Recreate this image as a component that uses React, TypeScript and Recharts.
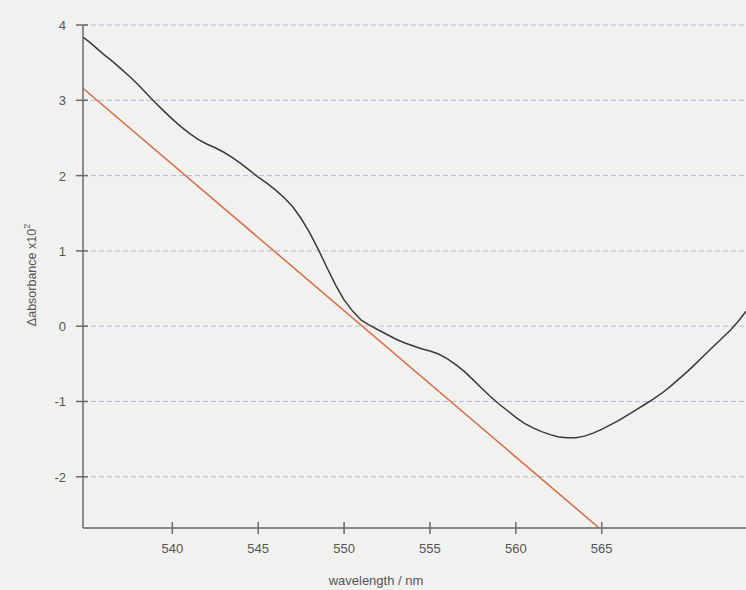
import { LineChart, Line, XAxis, YAxis, CartesianGrid } from 'recharts';

// wavelength (nm) and Δabsorbance x10²
const wavelengths = [
  534.8, 535.2, 535.6, 536.0, 536.5, 537.0, 537.5, 538.0, 538.5, 539.0, 539.5, 540.0, 540.5, 541.0,
  541.5, 542.0, 542.5, 543.0, 543.5, 544.0, 544.5, 545.0, 545.5, 546.0, 546.5, 547.0, 547.5, 548.0,
  548.5, 549.0, 549.5, 550.0, 550.5, 551.0, 551.5, 552.0, 552.5, 553.0, 553.5, 554.0, 554.5, 555.0,
  555.5, 556.0, 556.5, 557.0, 557.5, 558.0, 558.5, 559.0, 559.5, 560.0, 560.5, 561.0, 561.5, 562.0,
  562.5, 563.0, 563.5, 564.0, 564.5, 565.0, 565.5, 566.0, 566.5, 567.0, 567.5, 568.0, 568.5, 569.0,
  569.5, 570.0, 570.5, 571.0, 571.5, 572.0, 572.5, 573.0, 573.4,
];
const spectrum = [
  3.84, 3.77, 3.69, 3.61, 3.52, 3.42, 3.32, 3.21, 3.09, 2.97, 2.86, 2.75, 2.65, 2.56,
  2.48, 2.42, 2.37, 2.31, 2.24, 2.16, 2.07, 1.98, 1.9, 1.81, 1.71, 1.59, 1.43, 1.24,
  1.02, 0.78, 0.55, 0.35, 0.2, 0.08, 0.01, -0.05, -0.11, -0.17, -0.22, -0.26, -0.3, -0.33,
  -0.37, -0.43, -0.51, -0.6, -0.71, -0.82, -0.93, -1.03, -1.12, -1.21, -1.29, -1.35, -1.4, -1.44,
  -1.47, -1.48, -1.48, -1.46, -1.42, -1.37, -1.31, -1.25, -1.18, -1.11, -1.04, -0.97, -0.89, -0.8,
  -0.7, -0.6, -0.49, -0.38, -0.27, -0.16, -0.05, 0.08, 0.2,
];

// straight baseline (red)
const baselineX = [534.8, 564.85];
const baselineY = [3.16, -2.68];

const xTicks = [540, 545, 550, 555, 560, 565];
const yTicks = [-2, -1, 0, 1, 2, 3, 4];

const spectrumData = wavelengths.map((w, i) => ({ w, a: spectrum[i] }));
const baselineData = baselineX.map((w, i) => ({ w, b: baselineY[i] }));

const FONT = '"Liberation Sans", Arial, sans-serif';
const AXIS = '#6a6a6a';

const XTick = ({ x, y, payload }: any) => (
  <g>
    <line x1={x} y1={y - 6} x2={x} y2={y + 6} stroke={AXIS} strokeWidth={1.5} />
    <text x={x} y={y + 25} textAnchor="middle" fill="#555" fontSize={13} fontFamily={FONT}>
      {payload.value}
    </text>
  </g>
);

const YTick = ({ x, y, payload }: any) => (
  <g>
    <line x1={x - 7} y1={y} x2={x + 5} y2={y} stroke={AXIS} strokeWidth={1.5} />
    <text x={x - 17} y={y + 5} textAnchor="end" fill="#555" fontSize={13} fontFamily={FONT}>
      {payload.value}
    </text>
  </g>
);

export default function App() {
  return (
    <div style={{ position: 'absolute', left: 0, top: 0, width: 746, height: 590, background: '#f1f1f0', overflow: 'hidden' }}>
      <LineChart width={746} height={590} data={spectrumData} margin={{ top: 25, right: 0, bottom: 0, left: 0 }}>
        <CartesianGrid vertical={false} stroke="#b8b8da" strokeDasharray="5 3" />
        <XAxis
          dataKey="w"
          type="number"
          domain={[534.8, 573.4]}
          ticks={xTicks}
          allowDataOverflow
          height={62}
          tickSize={0}
          tickMargin={0}
          tick={<XTick />}
          axisLine={{ stroke: AXIS, strokeWidth: 1.5 }}
          tickLine={false}
        />
        <YAxis
          type="number"
          domain={[-2.68, 4]}
          ticks={yTicks}
          allowDataOverflow
          width={83}
          tickSize={0}
          tickMargin={0}
          tick={<YTick />}
          axisLine={{ stroke: AXIS, strokeWidth: 1.5 }}
          tickLine={false}
        />
        <Line data={baselineData} dataKey="b" stroke="#d4734f" strokeWidth={1.6} dot={false} isAnimationActive={false} />
        <Line dataKey="a" stroke="#3a3a3a" strokeWidth={1.5} dot={false} isAnimationActive={false} />
      </LineChart>
      <svg width={746} height={590} style={{ position: 'absolute', left: 0, top: 0, pointerEvents: 'none' }}>
        <text x={376} y={585} textAnchor="middle" fill="#555" fontSize={13} fontFamily={FONT}>
          wavelength / nm
        </text>
        <text transform="translate(36,275) rotate(-90)" textAnchor="middle" fill="#555" fontSize={12.5} fontFamily={FONT}>
          Δabsorbance x10<tspan dy={-6} fontSize={9}>2</tspan>
        </text>
      </svg>
    </div>
  );
}
